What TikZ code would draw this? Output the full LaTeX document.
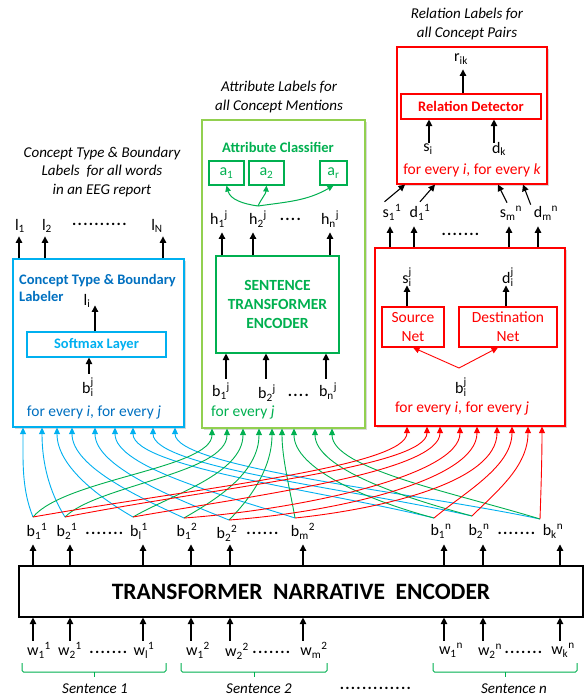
\documentclass[tikz,border=0pt]{standalone}
\usepackage{fontspec}
\setmainfont{Carlito}
\usetikzlibrary{arrows.meta,shadows}
\definecolor{cblue}{HTML}{00B0F0}
\definecolor{cdblue}{HTML}{0070C0}
\definecolor{cgreen}{HTML}{00B050}
\definecolor{clgreen}{HTML}{92D050}
\definecolor{cred}{HTML}{FF0000}
\newcommand\sq[3]{#1\textsubscript{#2}\textsuperscript{#3}}
\newcommand\scr[1]{\mbox{\fontsize{11.2}{13}\selectfont#1}}
\newcommand\st[3]{#1$^{\scr{#3}}_{\scr{#2}}$}
\newcommand\sbs[2]{#1\textsubscript{#2}}
\newcommand\dt{.\kern1.3pt}
\newcommand\fLab{\fontsize{16}{19}\selectfont}
\newcommand\fCap{\fontsize{15}{18.5}\selectfont\itshape}
\newcommand\fTit{\fontsize{14.5}{17}\selectfont\bfseries}
\newcommand\fFor{\fontsize{15.5}{18}\selectfont}
\newcommand\fNet{\fontsize{15.5}{19}\selectfont}
\newcommand\fEnc{\fontsize{15.5}{19}\selectfont\bfseries}
\newcommand\fBig{\fontsize{23.5}{28}\selectfont\bfseries}
\newcommand\cv[6]{\draw[carr,#1] (#2) to[out=#4,in=-90,out distance=#5pt,in distance=#6pt] (#3);}
\begin{document}
\begin{tikzpicture}[x=1pt,y=1pt,
  labtxt/.style={inner sep=0pt,font=\fLab},
  captxt/.style={inner sep=0pt,align=center,font=\fCap},
  dotsty/.style={inner sep=0pt,font=\fLab\bfseries},
  obox/.style={draw,fill=white,line width=1.2pt,inner sep=0pt,drop shadow={shadow xshift=2pt,shadow yshift=-2pt,opacity=0.3}},
  ibox/.style={draw,line width=1.1pt,inner sep=0pt},
  arr/.style={line width=1.1pt,-{Triangle[length=6.5pt,width=6.5pt]}},
  carr/.style={line width=0.9pt,-{Triangle[length=6.5pt,width=6pt]}},
  garr/.style={cgreen,line width=1pt,-{Triangle[length=6pt,width=5.5pt]}},
  bracesty/.style={cgreen,line width=1pt,rounded corners=1.5pt},
]
\fill[white] (0,0) rectangle (584,-700);
\path[use as bounding box] (0,0) rectangle (584,-700);

% captions
\node[captxt] (capL) at (102,-172) {Concept Type \& Boundary\\Labels\ \ for all words\\in an EEG report};
\node[captxt] (capM) at (279,-97) {Attribute Labels for\\all Concept Mentions};
\node[captxt] (capR) at (467,-24) {Relation Labels for\\all Concept Pairs};

% outer boxes
\node[obox,draw=cblue,minimum width=171pt,minimum height=168pt] (lab) at (98.5,-343) {};
\node[obox,draw=clgreen,minimum width=163pt,minimum height=308pt] (attr) at (283.5,-274) {};
\node[obox,draw=cred,minimum width=150pt,minimum height=137pt] (rel) at (472,-115.5) {};
\node[obox,draw=cred,minimum width=190pt,minimum height=178pt] (sd) at (470,-337) {};
\node[draw,line width=1.1pt,inner sep=0pt,minimum width=564pt,minimum height=51pt,font=\fBig] (enc) at (301,-591.5) {TRANSFORMER\ \ NARRATIVE\ \ ENCODER};

% ---- labeler (blue)
\node[inner sep=0pt,anchor=west,align=left,font=\fTit,text=cdblue] (labt) at (19,-288) {Concept Type \& Boundary\\Labeler};
\node[ibox,draw=cblue,text=cblue,font=\fTit,minimum width=139pt,minimum height=25pt] (soft) at (96.5,-344.5) {Softmax Layer};
\node[labtxt] (li) at (87,-301) {\sbs{l}{i}};
\node[labtxt] (bij) at (88,-387) {\st{b}{i}{j}};
\node[inner sep=0pt,font=\fFor,text=cdblue] (fe1) at (94,-412) {for every \textit{i}, for every \textit{j}};
\draw[arr] (soft.north -| 95,0) -- ++(0,26);
\draw[arr] (soft.south -| 89,0) ++(0,-16) -- ++(0,16);
\node[labtxt] (l1) at (20,-226) {\sbs{l}{1}};
\node[labtxt] (l2) at (47,-226) {\sbs{l}{2}};
\node[dotsty] (ld) at (100,-224) {\dt\dt\dt\dt\dt\dt\dt\dt\dt\dt};
\node[labtxt] (lN) at (157,-226) {\sbs{l}{N}};
\foreach \x in {19,45,163} \draw[arr] (lab.north -| \x,0) -- ++(0,22);

% ---- attribute classifier (green)
\node[inner sep=0pt,font=\fTit,text=cgreen] (ac) at (278,-147) {Attribute Classifier};
\node[ibox,draw=cgreen,text=cgreen,font=\fLab,minimum width=35pt,minimum height=24pt] (a1) at (226.5,-173) {\sbs{a}{1}};
\node[ibox,draw=cgreen,text=cgreen,font=\fLab,minimum width=35pt,minimum height=24pt] (a2) at (266.5,-173) {\sbs{a}{2}};
\node[ibox,draw=cgreen,text=cgreen,font=\fLab,minimum width=27pt,minimum height=24pt] (ar) at (333.5,-173) {\sbs{a}{r}};
\node[labtxt] (h1) at (219,-219) {\sq{h}{1}{j}};
\node[labtxt] (h2) at (258,-219) {\sq{h}{2}{j}};
\node[dotsty] (hd) at (291,-219) {\dt\dt\dt\dt};
\node[labtxt] (hn) at (330,-219) {\sq{h}{n}{j}};
\coordinate (hs) at (258,-206);
\draw[garr] (hs) to[out=172,in=-75] (a1.south);
\draw[garr] (hs) to[out=65,in=-95] (a2.south);
\draw[garr] (hs) to[out=8,in=-150] (ar.south);
\node[ibox,draw=cgreen,text=cgreen,font=\fEnc,align=center,minimum width=123pt,minimum height=97pt] (ste) at (277.5,-304.5) {SENTENCE\\TRANSFORMER\\ENCODER};
\foreach \x in {222,253,330} \draw[arr] (ste.north -| \x,0) -- ++(0,23);
\foreach \x in {226,266,326} \draw[arr] (ste.south -| \x,0) ++(0,-25) -- ++(0,25);
\node[labtxt] (bg1) at (221,-391) {\sq{b}{1}{j}};
\node[labtxt] (bg2) at (267,-393) {\sq{b}{2}{j}};
\node[dotsty] (bgd) at (299,-395) {\dt\dt\dt\dt};
\node[labtxt] (bgn) at (328,-391) {\sq{b}{n}{j}};
\node[inner sep=0pt,anchor=west,font=\fFor,text=cgreen] (fe2) at (211,-412) {for every \textit{j}};

% ---- relation detector (red top)
\node[labtxt] (rik) at (461,-59) {\sbs{r}{ik}};
\node[ibox,draw=cred,text=cred,font=\fTit,minimum width=140pt,minimum height=25pt] (rd) at (471,-106.5) {Relation Detector};
\node[labtxt] (si) at (428,-149) {\sbs{s}{i}};
\node[labtxt] (dk) at (499,-149) {\sbs{d}{k}};
\node[inner sep=0pt,font=\fFor,text=cred] (fe3) at (472,-170) {for every \textit{i}, for every \textit{k}};
\draw[arr] (rd.north -| 463,0) -- ++(0,24);
\draw[arr] (rd.south -| 429,0) ++(0,-23) -- ++(0,23);
\draw[arr] (rd.south -| 494,0) ++(0,-23) -- ++(0,23);

% ---- source / destination (red lower)
\node[labtxt] (sij) at (407,-277) {\st{s}{i}{j}};
\node[labtxt] (dij) at (508,-277) {\st{d}{i}{j}};
\node[ibox,draw=cred,text=cred,font=\fNet,align=center,minimum width=62pt,minimum height=40pt] (snet) at (413,-327) {Source\\Net};
\node[ibox,draw=cred,text=cred,font=\fNet,align=center,minimum width=98pt,minimum height=40pt] (dnet) at (508,-327) {Destination\\Net};
\draw[arr] (snet.north -| 407,0) -- ++(0,21);
\draw[arr] (dnet.north -| 506,0) -- ++(0,21);
\node[labtxt] (bsd) at (461,-387) {\st{b}{i}{j}};
\node[inner sep=0pt,font=\fFor,text=cred] (fe4) at (462,-408) {for every \textit{i}, for every \textit{j}};
\coordinate (fork) at (459,-368);
\draw[carr,cred] (fork) -- (snet.south -| 413,0);
\draw[carr,cred] (fork) -- (dnet.south -| 498,0);

% outputs between red boxes
\node[labtxt] (s11) at (392,-212) {\sq{s}{1}{1}};
\node[labtxt] (d11) at (420,-212) {\sq{d}{1}{1}};
\node[dotsty] (sdd) at (461,-234) {\dt\dt\dt\dt\dt\dt\dt};
\node[labtxt] (smn) at (511,-213) {\sq{s}{m}{n}};
\node[labtxt] (dmn) at (546,-213) {\sq{d}{m}{n}};
\foreach \x in {390,414,509,538} \draw[arr] (sd.north -| \x,0) -- ++(0,21);
\draw[arr] (s11.north west) ++(2,2) -- (rel.south -| 405,0);
\draw[arr] (d11.north) ++(0,2) -- (rel.south -| 435,0);
\draw[arr] (smn.north) ++(-4,3) -- (rel.south -| 498,0);
\draw[arr] (dmn.north west) ++(-3,1) -- (rel.south -| 523,0);

% ---- encoder rows
\node[labtxt] (b1) at (37,-531) {\sq{b}{1}{1}};
\node[labtxt] (b2) at (67,-531) {\sq{b}{2}{1}};
\node[dotsty] (bd1) at (105,-533) {\dt\dt\dt\dt\dt\dt\dt};
\node[labtxt] (b3) at (139,-531) {\sq{b}{l}{1}};
\node[labtxt] (b4) at (187,-531) {\sq{b}{1}{2}};
\node[labtxt] (b5) at (227,-533) {\sq{b}{2}{2}};
\node[dotsty] (bd2) at (263,-533) {\dt\dt\dt\dt\dt\dt};
\node[labtxt] (b6) at (303,-531) {\sq{b}{m}{2}};
\node[labtxt] (b7) at (441,-531) {\sq{b}{1}{n}};
\node[labtxt] (b8) at (479,-531) {\sq{b}{2}{n}};
\node[dotsty] (bd3) at (517,-533) {\dt\dt\dt\dt\dt\dt\dt};
\node[labtxt] (b9) at (553,-531) {\sq{b}{k}{n}};

\node[labtxt] (w1) at (39,-650) {\sq{w}{1}{1}};
\node[labtxt] (w2) at (70,-650) {\sq{w}{2}{1}};
\node[dotsty] (wd1) at (109,-652) {\dt\dt\dt\dt\dt\dt\dt};
\node[labtxt] (w3) at (144,-650) {\sq{w}{l}{1}};
\node[labtxt] (w4) at (198,-650) {\sq{w}{1}{2}};
\node[labtxt] (w5) at (237,-651) {\sq{w}{2}{2}};
\node[dotsty] (wd2) at (272,-652) {\dt\dt\dt\dt\dt\dt\dt};
\node[labtxt] (w6) at (314,-650) {\sq{w}{m}{2}};
\node[labtxt] (w7) at (451,-650) {\sq{w}{1}{n}};
\node[labtxt] (w8) at (490,-651) {\sq{w}{2}{n}};
\node[dotsty] (wd3) at (524,-652) {\dt\dt\dt\dt\dt\dt\dt};
\node[labtxt] (w9) at (563,-650) {\sq{w}{k}{n}};

\foreach \x in {33,70,143,191,230,303,444,483,560} {
  \draw[arr] (enc.north -| \x,0) -- ++(0,21);
  \draw[arr] (enc.south -| \x,0) ++(0,-23) -- ++(0,23);
}

% braces and sentences
\draw[bracesty] (22,-663) |- (166,-672) -- (166,-663);
\draw[bracesty] (94,-672) -- (94,-677);
\draw[bracesty] (181,-663) |- (327,-672) -- (327,-663);
\draw[bracesty] (254,-672) -- (254,-677);
\draw[bracesty] (433,-663) |- (577,-672) -- (577,-663);
\draw[bracesty] (505,-672) -- (505,-677);
\node[captxt] (sen1) at (95,-689) {Sentence 1};
\node[captxt] (sen2) at (259,-689) {Sentence 2};
\node[dotsty] (sdots) at (376,-688) {\dt\dt\dt\dt\dt\dt\dt\dt\dt\dt\dt\dt\dt};
\node[captxt] (senn) at (514,-689) {Sentence n};

% ---- connection bundle
\coordinate (src1) at (33,-517);
\coordinate (src2) at (65,-517);
\coordinate (src3) at (133,-517);
\coordinate (src4) at (184,-518);
\coordinate (src5) at (229,-520);
\coordinate (src6) at (295,-518);
\coordinate (src7) at (434,-518);
\coordinate (src8) at (472,-516);
\coordinate (src9) at (540,-519);
\foreach \x [count=\i] in {23,42,57,72,95,115,133,153,175} \coordinate (bt\i) at (lab.south -| \x,0);
\foreach \x [count=\i] in {212,227,243,259,272,282,294,315,332} \coordinate (gt\i) at (attr.south -| \x,0);
\foreach \x [count=\i] in {407,427,440,460,477,497,512,528,542} \coordinate (rt\i) at (sd.south -| \x,0);

\cv{cblue}{src1}{bt1}{112}{30}{35}
\cv{cblue}{src2}{bt2}{122}{30}{35}
\cv{cblue}{src3}{bt3}{150}{35}{40}
\cv{cblue}{src4}{bt4}{155}{45}{40}
\cv{cblue}{src5}{bt5}{158}{55}{40}
\cv{cblue}{src6}{bt6}{162}{70}{40}
\cv{cblue}{src7}{bt7}{166}{110}{40}
\cv{cblue}{src8}{bt8}{167}{120}{40}
\cv{cblue}{src9}{bt9}{168}{130}{40}
\cv{cgreen}{src1}{gt1}{50}{50}{40}
\cv{cgreen}{src2}{gt2}{45}{45}{45}
\cv{cgreen}{src3}{gt3}{30}{45}{45}
\cv{cgreen}{src4}{gt4}{30}{35}{45}
\cv{cgreen}{src5}{gt5}{45}{30}{40}
\cv{cgreen}{src6}{gt6}{100}{30}{30}
\cv{cgreen}{src7}{gt7}{165}{70}{40}
\cv{cgreen}{src8}{gt8}{165}{70}{40}
\cv{cgreen}{src9}{gt9}{163}{90}{40}
\cv{cred}{src1}{rt1}{10}{170}{40}
\cv{cred}{src2}{rt2}{11}{160}{40}
\cv{cred}{src3}{rt3}{10}{130}{45}
\cv{cred}{src4}{rt4}{4}{110}{50}
\cv{cred}{src5}{rt5}{4}{100}{55}
\cv{cred}{src6}{rt6}{6}{90}{55}
\cv{cred}{src7}{rt7}{40}{40}{40}
\cv{cred}{src8}{rt8}{45}{35}{40}
\cv{cred}{src9}{rt9}{88}{30}{30}
\end{tikzpicture}
\end{document}
